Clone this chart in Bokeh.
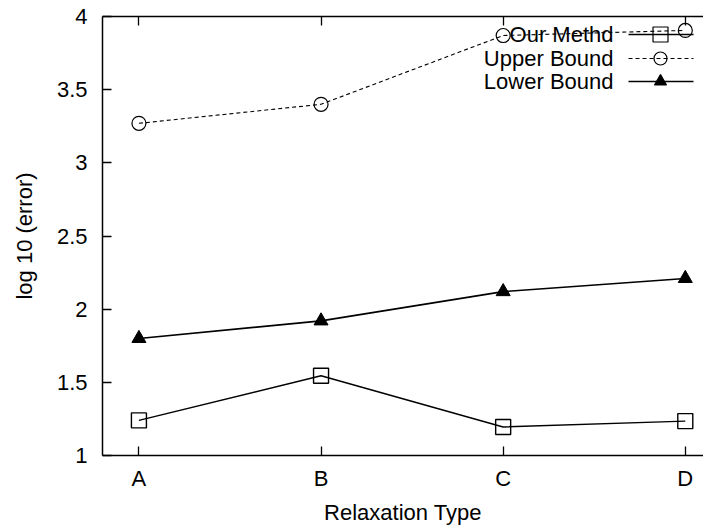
from bokeh.plotting import figure
from bokeh.models import Range1d, LinearAxis, FixedTicker, CustomJSTickFormatter
from bokeh.core.properties import value
from bokeh.embed import file_html
from bokeh.resources import INLINE

# ---- data ----
categories = ["A", "B", "C", "D"]
our_method = [1.24, 1.545, 1.195, 1.235]
upper_bound = [3.27, 3.40, 3.87, 3.905]
lower_bound = [1.80, 1.92, 2.12, 2.21]
y_ticks = [1, 1.5, 2, 2.5, 3, 3.5, 4]
series_names = ["Our Methd", "Upper Bound", "Lower Bound"]
x_label = "Relaxation Type"
y_label = "log 10 (error)"

x_pos = [i + 1 for i in range(len(categories))]

# ---- layout ----
FONT = "Liberation Sans"
FS = "22px"
X0, X1 = 0.8, 4.1
Y0, Y1 = 1, 4
FW, FH = 601, 439
FL, FT = 102, 16  # frame left / top in page pixels

p = figure(frame_width=FW, frame_height=FH,
           x_range=Range1d(X0, X1), y_range=Range1d(Y0, Y1),
           output_backend="svg", toolbar_location=None,
           min_border_left=FL, min_border_right=0,
           min_border_top=FT, min_border_bottom=60,
           x_axis_location=None, y_axis_location=None)
p.outline_line_color = None
p.xgrid.visible = False
p.ygrid.visible = False
p.background_fill_color = "white"
p.border_fill_color = "white"

xfmt = CustomJSTickFormatter(args=dict(cats=categories),
                             code="const i = Math.round(tick) - 1; return (i >= 0 && i < cats.length) ? cats[i] : '';")
yfmt = CustomJSTickFormatter(code="return String(tick);")


def style(ax):
    ax.axis_line_color = "black"
    ax.axis_line_width = 1.5
    ax.major_tick_line_color = "black"
    ax.major_tick_line_width = 1.3
    ax.major_tick_in = 9
    ax.major_tick_out = 0
    ax.minor_tick_line_color = None
    ax.major_label_text_font = FONT
    ax.major_label_text_font_size = FS
    ax.major_label_text_color = "black"
    ax.axis_label_text_font = FONT
    ax.axis_label_text_font_size = FS
    ax.axis_label_text_font_style = "normal"
    ax.axis_label_text_color = "black"


xaxis = LinearAxis(ticker=FixedTicker(ticks=x_pos), formatter=xfmt, axis_label=x_label)
style(xaxis)
xaxis.major_label_standoff = 10
xaxis.axis_label_standoff = 6
p.add_layout(xaxis, "below")

yaxis = LinearAxis(ticker=FixedTicker(ticks=y_ticks), formatter=yfmt, axis_label=y_label)
style(yaxis)
yaxis.major_label_standoff = 15
yaxis.axis_label_standoff = 17
p.add_layout(yaxis, "left")

top = LinearAxis(ticker=FixedTicker(ticks=x_pos), formatter=xfmt)
style(top)
top.major_label_text_font_size = "1px"
top.major_label_text_alpha = 0
top.major_label_standoff = 0
p.add_layout(top, "above")

# ---- data series ----
LW = 1.4
p.line(x_pos, our_method, line_color="black", line_width=LW)
p.scatter(x_pos, our_method, marker="square", size=15, fill_color=None,
          line_color="black", line_width=LW)

p.line(x_pos, upper_bound, line_color="black", line_width=1.1, line_dash="4 3")
p.scatter(x_pos, upper_bound, marker="circle", size=14, fill_color=None,
          line_color="black", line_width=1.2)

p.line(x_pos, lower_bound, line_color="black", line_width=1.6)
p.scatter(x_pos, lower_bound, marker="triangle", size=14, fill_color="black",
          line_color="black", line_width=1)


# ---- legend (gnuplot style: label then sample) ----
def px_x(px):
    return X0 + (px - FL) * (X1 - X0) / FW


def py_y(py):
    return Y1 - (py - FT) * (Y1 - Y0) / FH


rows_px = [34, 58, 81]
rows = [py_y(v) for v in rows_px]
text_x = px_x(613)
ls, le, lm = px_x(628), px_x(693), px_x(660)

p.text(x=[text_x] * 3, y=rows, text=series_names, text_align="right",
       text_baseline="middle", text_font=value(FONT), text_font_size=FS,
       text_color="black")

dashes = ["solid", "4 3", "solid"]
widths = [LW, 1.1, 1.6]
markers = ["square", "circle", "triangle"]
fills = [None, None, "black"]
sizes = [15, 13, 12]
for r, d, w, m, f, s in zip(rows, dashes, widths, markers, fills, sizes):
    p.line([ls, le], [r, r], line_color="black", line_width=w, line_dash=d)
    p.scatter([lm], [r], marker=m, size=s, fill_color=f, line_color="black",
              line_width=1.2)

open("out.html", "w").write(file_html(p, INLINE))
